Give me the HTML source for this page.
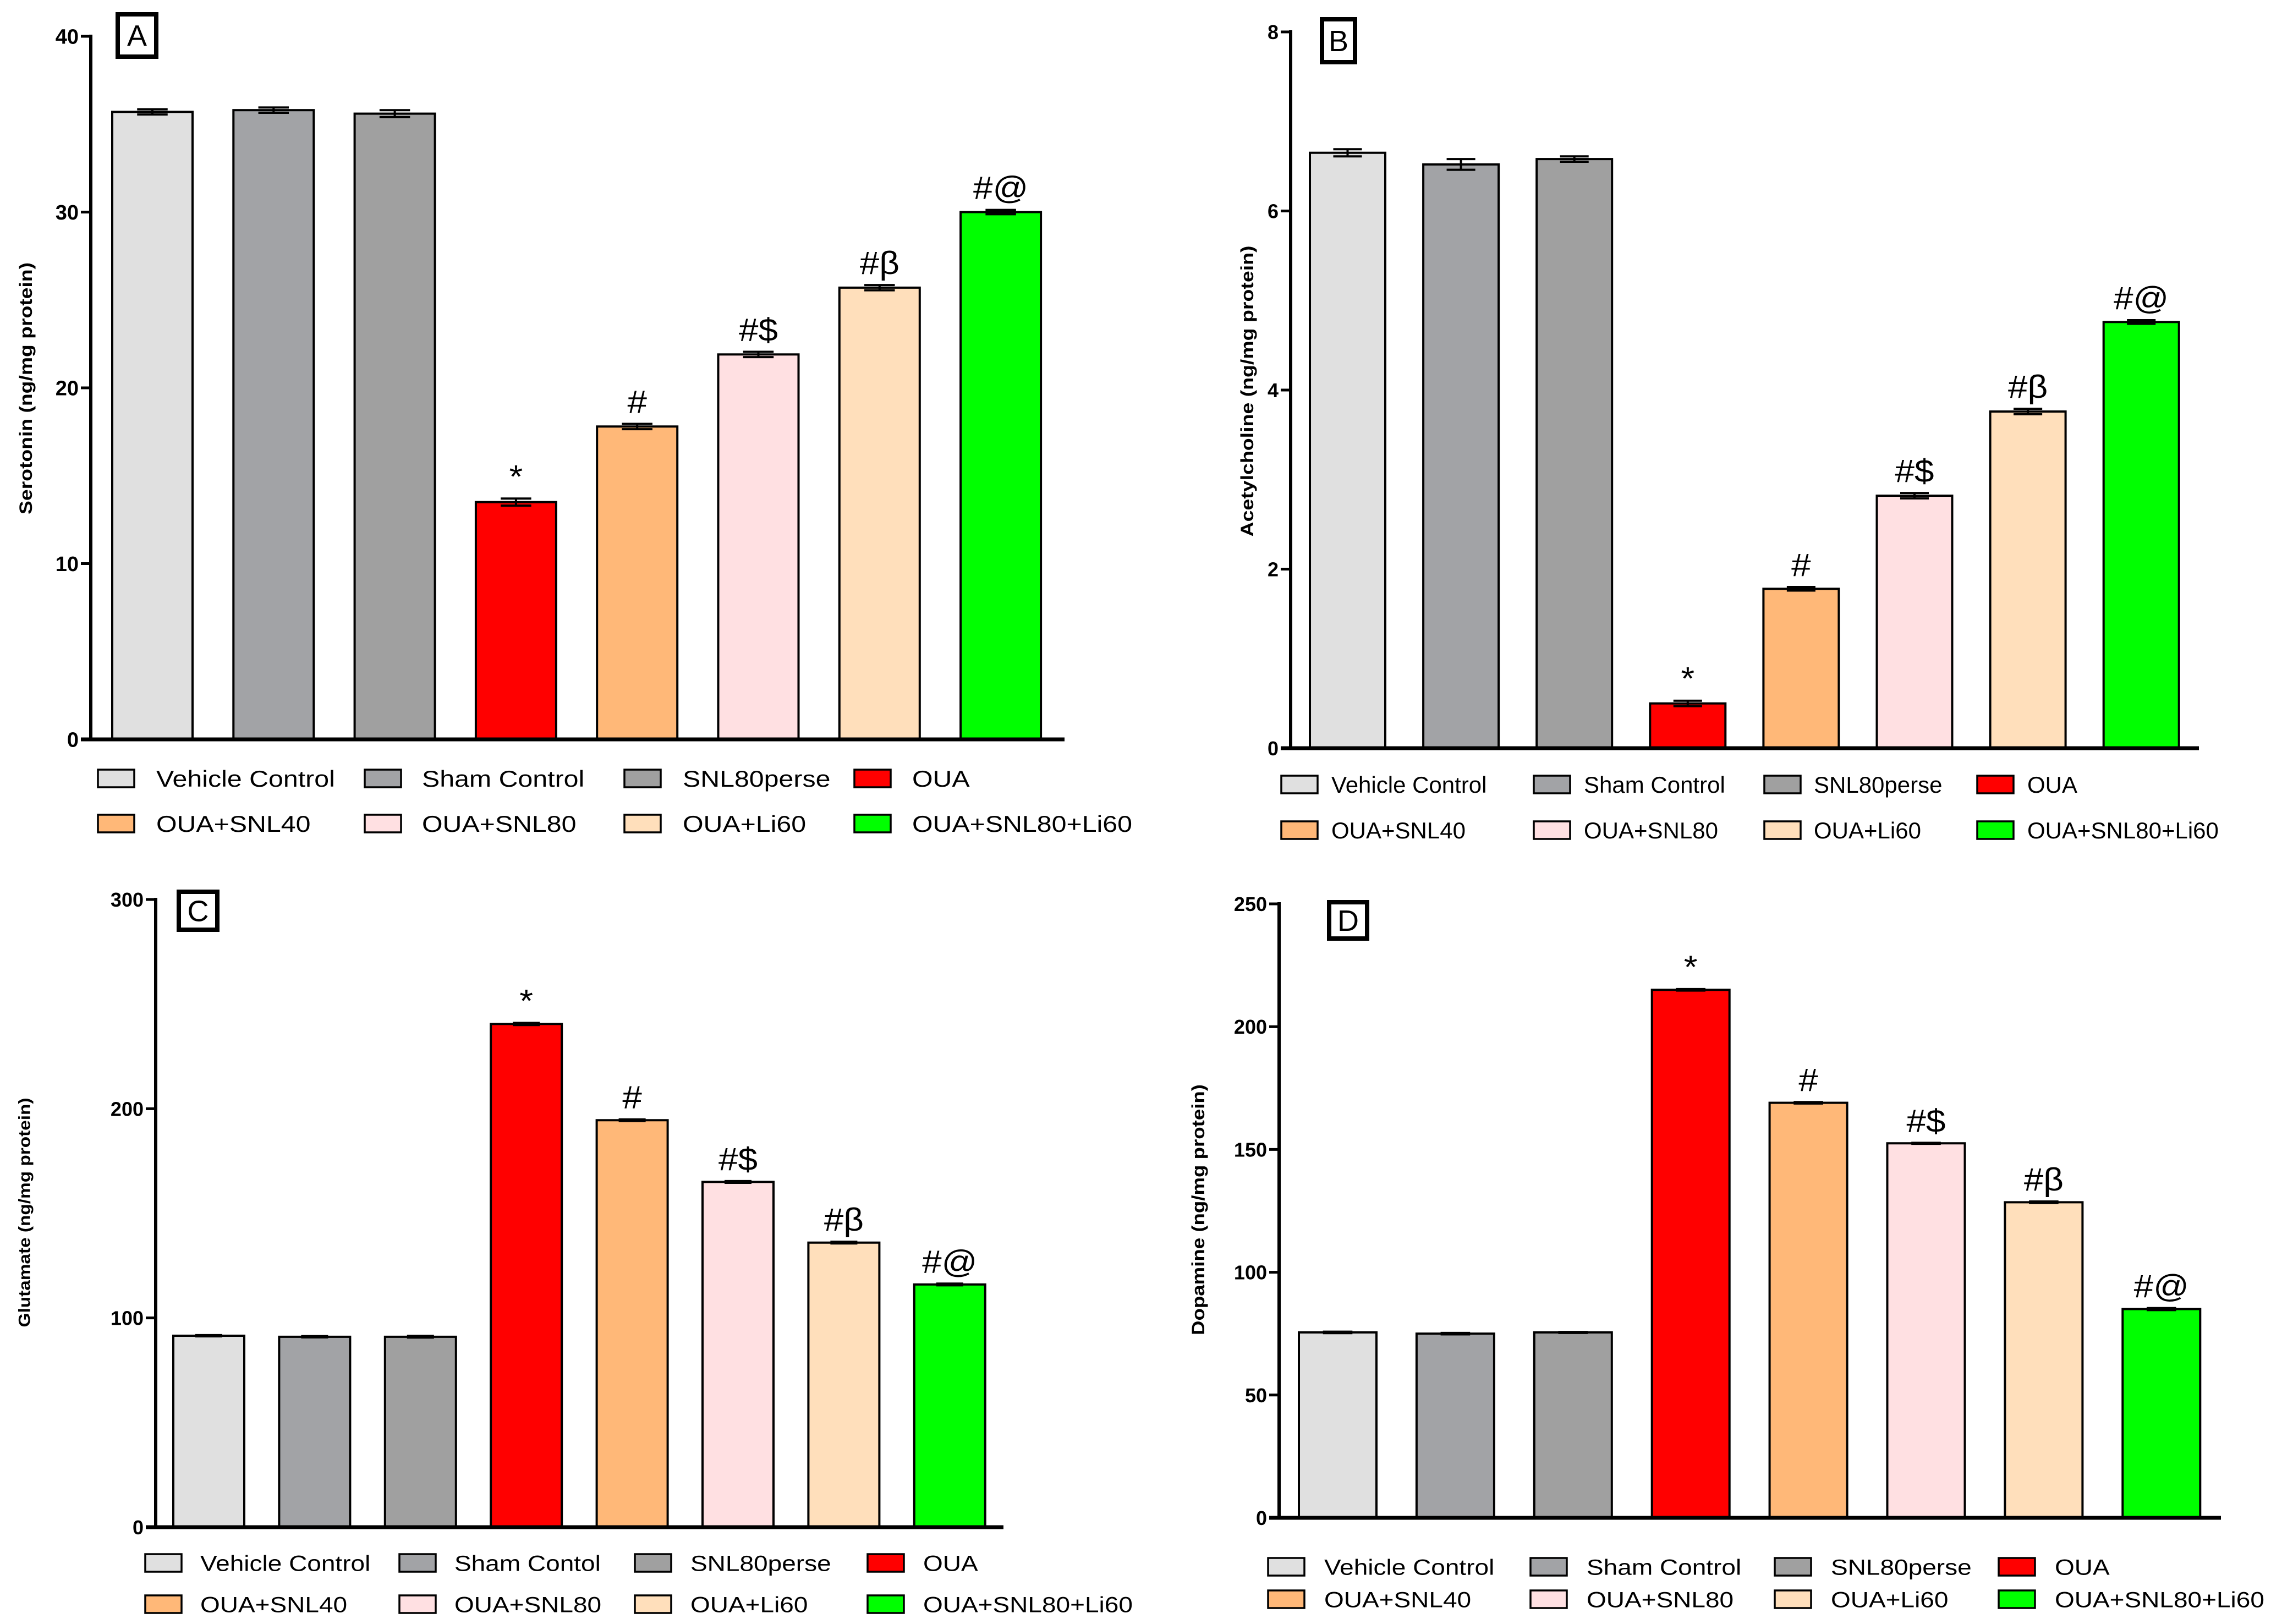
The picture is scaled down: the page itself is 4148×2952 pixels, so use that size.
<!DOCTYPE html>
<html><head><meta charset="utf-8">
<style>
html,body{margin:0;padding:0;background:#fff;overflow:hidden;}
svg{display:block;}
text{font-family:"Liberation Sans",Arial,sans-serif;}
</style></head>
<body>
<svg id="fig" width="4148" height="2952" viewBox="0 0 4148 2952" xmlns="http://www.w3.org/2000/svg"></svg>
<script>
const categories = ["Vehicle Control","Sham Control","SNL80perse","OUA","OUA+SNL40","OUA+SNL80","OUA+Li60","OUA+SNL80+Li60"];
const serotoninValues = [35.7, 35.8, 35.6, 13.5, 17.8, 21.9, 25.7, 30.0];
const serotoninErr = [0.15, 0.15, 0.2, 0.2, 0.15, 0.15, 0.15, 0.12];
const acetylcholineValues = [6.65, 6.52, 6.58, 0.5, 1.78, 2.82, 3.76, 4.76];
const acetylcholineErr = [0.04, 0.06, 0.03, 0.03, 0.02, 0.03, 0.03, 0.02];
const glutamateValues = [91.5, 91, 91, 240.5, 194.5, 165, 136, 116];
const glutamateErr = [0.3, 0.3, 0.4, 0.5, 0.4, 0.4, 0.4, 0.4];
const dopamineValues = [75.5, 75, 75.5, 215, 169, 152.5, 128.5, 85];
const dopamineErr = [0.3, 0.3, 0.2, 0.3, 0.3, 0.2, 0.3, 0.4];
const annotations = ["", "", "", "*", "#", "#$", "#\u03b2", "#@"];
const ticksA = [0, 10, 20, 30, 40];
const ticksB = [0, 2, 4, 6, 8];
const ticksC = [0, 100, 200, 300];
const ticksD = [0, 50, 100, 150, 200, 250];
const legendC = ["Vehicle Control","Sham Contol","SNL80perse","OUA","OUA+SNL40","OUA+SNL80","OUA+Li60","OUA+SNL80+Li60"];
const colors = ["#e0e0e0","#a2a3a6","#a0a0a0","#ff0000","#ffb878","#ffe0e2","#ffdfbb","#00ff00"];

const NS = "http://www.w3.org/2000/svg";
const svg = document.getElementById("fig");
function mk(tag, attrs, parent){
  const e = document.createElementNS(NS, tag);
  for (const k in attrs) e.setAttribute(k, attrs[k]);
  (parent||svg).appendChild(e);
  return e;
}

const panels = [
  {id:"a", letter:"A", values:serotoninValues, err:serotoninErr, ticks:ticksA, max:40, legend:categories,
   axX:165, yTop:66, yBot:1344, xEnd:1935, first:204, pitch:220.3, bw:146,
   ylabel:"Serotonin (ng/mg protein)", ylx:47, yly:706, ylLen:458, ylSize:32, tickSize:38,
   box:[214,26,70,77], legRows:[1415,1497], swX:[178,663,1135,1553], txX:[284,767,1241,1658], legSize:42, legSx:1.15},
  {id:"b", letter:"B", values:acetylcholineValues, err:acetylcholineErr, ticks:ticksB, max:8, legend:categories,
   axX:2346, yTop:58, yBot:1360, xEnd:3997, first:2381, pitch:206.1, bw:137,
   ylabel:"Acetylcholine (ng/mg protein)", ylx:2267, yly:711, ylLen:529, ylSize:32, tickSize:36,
   box:[2403,35,60,78], legRows:[1426,1509], swX:[2329,2788,3207,3594], txX:[2420,2879,3297,3685], legSize:42, legSx:1.0},
  {id:"c", letter:"C", values:glutamateValues, err:glutamateErr, ticks:ticksC, max:300, legend:legendC,
   axX:283, yTop:1635, yBot:2776, xEnd:1824, first:315, pitch:192.4, bw:129,
   ylabel:"Glutamate (ng/mg protein)", ylx:44, yly:2204, ylLen:417, ylSize:30, tickSize:36,
   box:[325,1621,70,69], legRows:[2841,2916], swX:[264,726,1154,1577], txX:[364,826,1255,1678], legSize:40, legSx:1.15},
  {id:"d", letter:"D", values:dopamineValues, err:dopamineErr, ticks:ticksD, max:250, legend:categories,
   axX:2325, yTop:1643, yBot:2759, xEnd:4037, first:2361, pitch:213.9, bw:141,
   ylabel:"Dopamine (ng/mg protein)", ylx:2178, yly:2199, ylLen:456, ylSize:32, tickSize:36,
   box:[2416,1640,69,66], legRows:[2848,2907], swX:[2305,2782,3226,3633], txX:[2407,2884,3328,3735], legSize:40, legSx:1.15}
];

panels.forEach(p => {
  const g = mk("g", {});
  
  
  const y = v => p.yBot - (v / p.max) * (p.yBot - p.yTop);
  const xL = i => p.first + i * p.pitch;

  p.values.forEach((v, i) => {
    const r = mk("rect", {x:xL(i), y:y(v), width:p.bw, height:p.yBot - y(v), fill:colors[i], stroke:"#000", "stroke-width":4}, g);
    
    
    const cx = xL(i) + p.bw / 2, cw = p.bw * 0.19;
    const eb = mk("path", {d:`M${cx-cw},${y(v+p.err[i])}H${cx+cw}M${cx},${y(v+p.err[i])}V${y(v-p.err[i])}M${cx-cw},${y(v-p.err[i])}H${cx+cw}`, stroke:"#000", "stroke-width":4, fill:"none"}, g);
    
    
    if (annotations[i]) {
      const t = mk("text", {x:0, y:0, transform:`translate(${cx},${y(v + p.err[i]) - 20}) scale(1.1,1)`, "text-anchor":"middle", "font-size":58}, g);
      t.textContent = annotations[i];
      
      
    }
  });

  const ya = mk("line", {x1:p.axX, y1:p.yTop - 3, x2:p.axX, y2:p.yBot + 3, stroke:"#000", "stroke-width":6}, g);
  
  
  const xa = mk("line", {x1:p.axX - 18, y1:p.yBot, x2:p.xEnd, y2:p.yBot, stroke:"#000", "stroke-width":7}, g);
  
  
  p.ticks.forEach(t => {
    mk("line", {x1:p.axX - 18, y1:y(t), x2:p.axX, y2:y(t), stroke:"#000", "stroke-width":5}, g);
    const tl = mk("text", {x:p.axX - 22, y:y(t) + p.tickSize * 0.36, "text-anchor":"end", "font-size":p.tickSize, "font-weight":"bold"}, g);
    tl.textContent = t;
    
    
  });

  const yt = mk("text", {x:0, y:0, transform:`translate(${p.ylx + p.ylSize*0.35},${p.yly}) rotate(-90)`, "text-anchor":"middle", "font-size":p.ylSize, "font-weight":"bold", textLength:p.ylLen, lengthAdjust:"spacingAndGlyphs"}, g);
  yt.textContent = p.ylabel;
  
  

  const b = p.box;
  const bx = mk("rect", {x:b[0], y:b[1], width:b[2], height:b[3], fill:"#fff", stroke:"#000", "stroke-width":8}, g);
  
  
  const bl = mk("text", {x:b[0] + b[2]/2, y:b[1] + b[3]/2 + 19, "text-anchor":"middle", "font-size":54}, g);
  bl.textContent = p.letter;
  
  

  p.legend.forEach((name, i) => {
    const row = Math.floor(i / 4), col = i % 4;
    const cy = p.legRows[row];
    const sw = mk("rect", {x:p.swX[col], y:cy - 16, width:66, height:32, fill:colors[i], stroke:"#000", "stroke-width":3.5}, g);
    
    
    const lt = mk("text", {x:0, y:0, transform:`translate(${p.txX[col]},${cy + p.legSize * 0.36}) scale(${p.legSx},1)`, "font-size":p.legSize}, g);
    lt.textContent = name;
    
    
  });
});
</script>
</body></html>
